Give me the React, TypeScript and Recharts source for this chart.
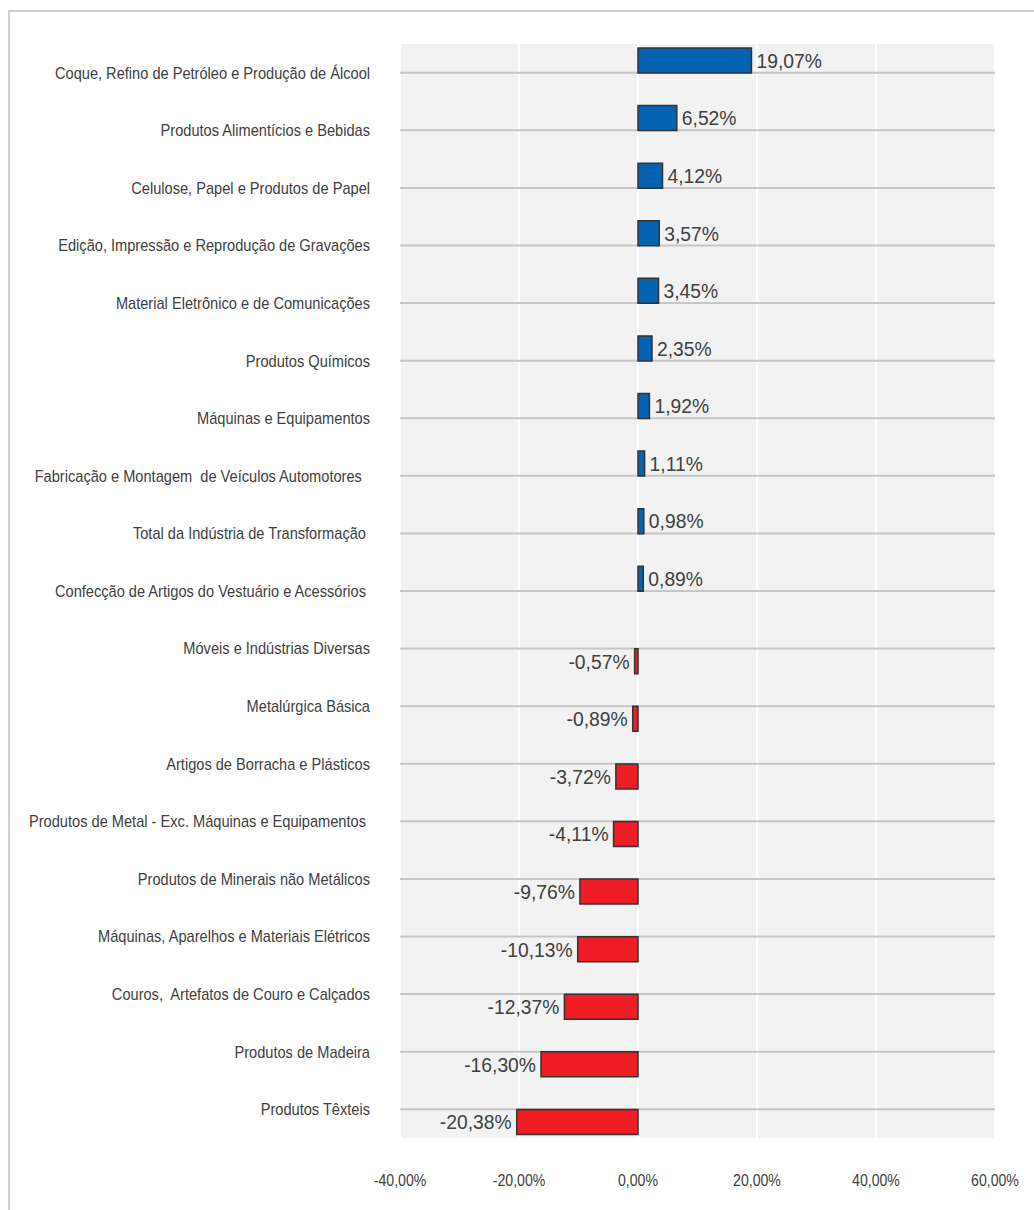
import React from 'react';
import { BarChart, Bar, XAxis, YAxis, CartesianGrid, LabelList } from 'recharts';

const categories = [
  'Coque, Refino de Petróleo e Produção de Álcool',
  'Produtos Alimentícios e Bebidas',
  'Celulose, Papel e Produtos de Papel',
  'Edição, Impressão e Reprodução de Gravações',
  'Material Eletrônico e de Comunicações',
  'Produtos Químicos',
  'Máquinas e Equipamentos',
  'Fabricação e Montagem  de Veículos Automotores  ',
  'Total da Indústria de Transformação ',
  'Confecção de Artigos do Vestuário e Acessórios ',
  'Móveis e Indústrias Diversas',
  'Metalúrgica Básica',
  'Artigos de Borracha e Plásticos',
  'Produtos de Metal - Exc. Máquinas e Equipamentos ',
  'Produtos de Minerais não Metálicos',
  'Máquinas, Aparelhos e Materiais Elétricos',
  'Couros,  Artefatos de Couro e Calçados',
  'Produtos de Madeira',
  'Produtos Têxteis',
];

// variação (%) por setor
const values = [
  19.07, 6.52, 4.12, 3.57, 3.45, 2.35, 1.92, 1.11, 0.98, 0.89,
  -0.57, -0.89, -3.72, -4.11, -9.76, -10.13, -12.37, -16.3, -20.38,
];

const xTicks = [-40, -20, 0, 20, 40, 60];

const data = categories.map((name, i) => ({
  name,
  pos: values[i] >= 0 ? values[i] : null,
  neg: values[i] < 0 ? values[i] : null,
}));

// no narrow font installed, so Liberation Sans gets squeezed horizontally
const FONT = "'Liberation Sans', Arial, sans-serif";
const TEXT = '#404040';

const fmt = (v: number) => v.toFixed(2).replace('.', ',') + '%';

const CategoryTick = (props: any) => {
  const { x, y, payload } = props;
  return (
    <text
      transform={`translate(${x},${y}) scale(0.87,1)`}
      x={0}
      y={0}
      dy="0.35em"
      textAnchor="end"
      xmlSpace="preserve"
      fill={TEXT}
      fontSize={16.8}
      fontFamily={FONT}
    >
      {payload.value}
    </text>
  );
};

const PercentTick = (props: any) => {
  const { x, y, payload } = props;
  return (
    <text
      transform={`translate(${x},${y}) scale(0.83,1)`}
      x={0}
      y={0}
      dy="0.71em"
      textAnchor="middle"
      fill={TEXT}
      fontSize={17}
      fontFamily={FONT}
    >
      {fmt(payload.value)}
    </text>
  );
};

const ValueLabel = (props: any) => {
  const { x, y, width, height, value } = props;
  if (value === null || value === undefined) return null;
  const left = Math.min(x, x + width);
  const right = Math.max(x, x + width);
  const cy = y + height / 2;
  const positive = value >= 0;
  const tx = positive ? right + 5 : left - 5;
  return (
    <text
      transform={`translate(${tx},${cy}) scale(0.92,1)`}
      x={0}
      y={0}
      dy="0.35em"
      textAnchor={positive ? 'start' : 'end'}
      fill={TEXT}
      fontSize={21}
      fontFamily={FONT}
    >
      {fmt(value)}
    </text>
  );
};

const App: React.FC = () => {
  return (
    <div style={{ position: 'absolute', left: 0, top: 0, width: 1034, height: 1210, background: '#fff', overflow: 'hidden' }}>
      <div
        style={{
          position: 'absolute',
          left: 8,
          top: 10,
          width: 1100,
          height: 1300,
          borderTop: '2px solid #d0d0d0',
          borderLeft: '2px solid #d0d0d0',
        }}
      />
      <div style={{ position: 'absolute', left: 0, top: 0 }}>
        <BarChart
          width={1034}
          height={1210}
          data={data}
          layout="vertical"
          margin={{ top: 44, right: 39, bottom: 0, left: 0 }}
          barGap={0}
          barSize={25}
        >
          <CartesianGrid fill="#f2f2f2" horizontal={false} stroke="#ffffff" strokeWidth={2} />
          <CartesianGrid vertical={false} syncWithTicks stroke="#c6c6c6" strokeWidth={2} />
          <XAxis
            type="number"
            domain={[-40, 60]}
            ticks={xTicks}
            axisLine={false}
            tickLine={false}
            tickMargin={30}
            height={72}
            tick={<PercentTick />}
          />
          <YAxis
            type="category"
            dataKey="name"
            width={400}
            axisLine={false}
            tickLine={false}
            tickMargin={24}
            interval={0}
            tick={<CategoryTick />}
          />
          <Bar dataKey="pos" fill="#0563b3" stroke="#333333" strokeWidth={1.5} isAnimationActive={false}>
            <LabelList dataKey="pos" content={<ValueLabel />} />
          </Bar>
          <Bar dataKey="neg" fill="#ee1c25" stroke="#333333" strokeWidth={1.5} isAnimationActive={false}>
            <LabelList dataKey="neg" content={<ValueLabel />} />
          </Bar>
        </BarChart>
      </div>
    </div>
  );
};

export default App;
